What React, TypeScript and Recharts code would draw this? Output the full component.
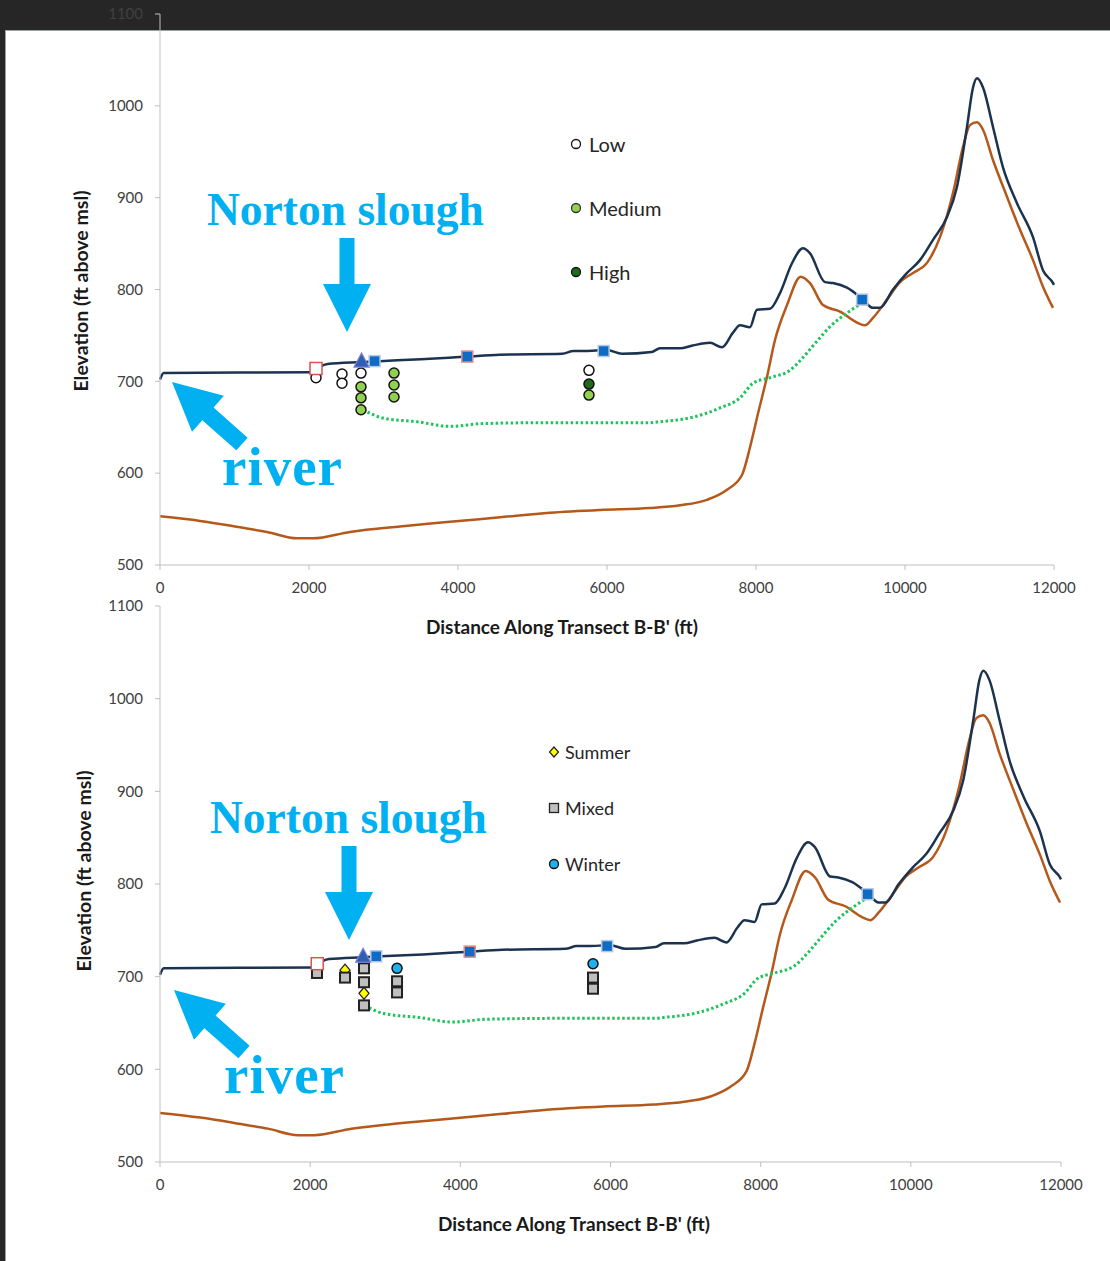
import React from "react";
import { ComposedChart, Line, Scatter, XAxis, YAxis } from "recharts";

type Pt = { x: number; y: number };

const xTicks = [0, 2000, 4000, 6000, 8000, 10000, 12000];
const yTicks = [500, 600, 700, 800, 900, 1000, 1100];

// land surface along the transect
const groundSurface: Pt[] = [
  { x: 0, y: 702 }, { x: 50, y: 709 }, { x: 2060, y: 710 }, { x: 2150, y: 716 },
  { x: 2250, y: 719 }, { x: 2700, y: 721 }, { x: 2950, y: 722 }, { x: 3500, y: 724 },
  { x: 4120, y: 727 }, { x: 4560, y: 729 }, { x: 5400, y: 730 }, { x: 5550, y: 733 },
  { x: 5700, y: 733 }, { x: 6000, y: 734 }, { x: 6200, y: 730 }, { x: 6600, y: 732 },
  { x: 6711, y: 736 }, { x: 6980, y: 736 }, { x: 7150, y: 739 }, { x: 7383, y: 742 },
  { x: 7544, y: 737 }, { x: 7691, y: 753 }, { x: 7785, y: 761 }, { x: 7919, y: 759 },
  { x: 8013, y: 778 }, { x: 8188, y: 779 }, { x: 8322, y: 796 }, { x: 8480, y: 828 },
  { x: 8630, y: 845 }, { x: 8720, y: 840 }, { x: 8926, y: 808 }, { x: 9034, y: 807 },
  { x: 9221, y: 802 }, { x: 9436, y: 789 }, { x: 9570, y: 780 }, { x: 9664, y: 780 },
  { x: 9839, y: 800 }, { x: 10027, y: 818 }, { x: 10201, y: 832 }, { x: 10376, y: 854 },
  { x: 10564, y: 879 }, { x: 10698, y: 912 }, { x: 10832, y: 977 }, { x: 10913, y: 1020 },
  { x: 10966, y: 1030 }, { x: 11047, y: 1020 }, { x: 11181, y: 977 }, { x: 11315, y: 933 },
  { x: 11503, y: 894 }, { x: 11718, y: 857 }, { x: 11852, y: 821 }, { x: 11987, y: 807 },
  { x: 12000, y: 805 },
];

// bedrock surface
const bedrock: Pt[] = [
  { x: 0, y: 553 }, { x: 537, y: 548 }, { x: 1074, y: 541 }, { x: 1436, y: 536 },
  { x: 1839, y: 529 }, { x: 2054, y: 529 }, { x: 2550, y: 536 }, { x: 3221, y: 542 },
  { x: 3893, y: 547 }, { x: 4564, y: 552 }, { x: 5235, y: 557 }, { x: 5906, y: 560 },
  { x: 6577, y: 562 }, { x: 6980, y: 565 }, { x: 7342, y: 571 }, { x: 7611, y: 582 },
  { x: 7812, y: 598 }, { x: 7919, y: 628 }, { x: 8027, y: 665 }, { x: 8148, y: 705 },
  { x: 8255, y: 745 }, { x: 8416, y: 783 }, { x: 8600, y: 814 }, { x: 8725, y: 807 },
  { x: 8900, y: 783 }, { x: 9128, y: 776 }, { x: 9356, y: 764 }, { x: 9463, y: 761 },
  { x: 9570, y: 769 }, { x: 9758, y: 789 }, { x: 9933, y: 808 }, { x: 10107, y: 818 },
  { x: 10295, y: 829 }, { x: 10470, y: 857 }, { x: 10644, y: 905 }, { x: 10778, y: 955 },
  { x: 10872, y: 979 }, { x: 10966, y: 982 }, { x: 11047, y: 974 }, { x: 11181, y: 941 },
  { x: 11369, y: 901 }, { x: 11544, y: 865 }, { x: 11718, y: 832 }, { x: 11852, y: 803 },
  { x: 11987, y: 780 },
];

// water table (dotted)
const waterTable: Pt[] = [
  { x: 2725, y: 669 }, { x: 2993, y: 660 }, { x: 3450, y: 656 }, { x: 3893, y: 651 },
  { x: 4336, y: 654 }, { x: 5235, y: 655 }, { x: 6577, y: 655 }, { x: 6711, y: 656 },
  { x: 7155, y: 661 }, { x: 7517, y: 671 }, { x: 7785, y: 682 }, { x: 7960, y: 698 },
  { x: 8188, y: 704 }, { x: 8456, y: 712 }, { x: 8631, y: 726 }, { x: 8800, y: 742 },
  { x: 9000, y: 760 }, { x: 9130, y: 769 }, { x: 9250, y: 776 }, { x: 9430, y: 786 },
];

// surface water points
const openSquareSites: Pt[] = [{ x: 2094, y: 714 }];
const triangleSites: Pt[] = [{ x: 2705, y: 721 }];
const blueSquareSites: Pt[] = [{ x: 2880, y: 722 }, { x: 5955, y: 733 }, { x: 9425, y: 789 }];
const redEdgeSquareSites: Pt[] = [{ x: 4125, y: 727 }];

// top panel: recharge level
const lowSites: Pt[] = [
  { x: 2094, y: 704 }, { x: 2443, y: 708 }, { x: 2443, y: 698 }, { x: 2698, y: 709 }, { x: 5758, y: 712 },
];
const mediumSites: Pt[] = [
  { x: 2698, y: 694 }, { x: 2698, y: 682 }, { x: 2698, y: 669 }, { x: 3141, y: 709 },
  { x: 3141, y: 696 }, { x: 3141, y: 683 }, { x: 5758, y: 685 },
];
const highSites: Pt[] = [{ x: 5758, y: 697 }];

// bottom panel: season
const summerSites: Pt[] = [{ x: 2464, y: 707 }, { x: 2717, y: 682 }];
const mixedSites: Pt[] = [
  { x: 2091, y: 704 }, { x: 2464, y: 699 }, { x: 2717, y: 709 }, { x: 2717, y: 694 },
  { x: 2717, y: 669 }, { x: 3157, y: 695 }, { x: 3157, y: 683 }, { x: 5767, y: 699 },
  { x: 5767, y: 687 },
];
const winterSites: Pt[] = [{ x: 3157, y: 709 }, { x: 5767, y: 714 }];

const FONT = "Lato, 'Open Sans', sans-serif";
const CYAN = "#00b0f0";

const circle = (fill: string) => (p: any) => (
  <circle cx={p.cx} cy={p.cy} r={5} fill={fill} stroke="#111" strokeWidth={1.5} />
);
const square = (fill: string, stroke: string, s = 11, sw = 1.5) => (p: any) => (
  <rect x={p.cx - s / 2} y={p.cy - s / 2} width={s} height={s} fill={fill} stroke={stroke} strokeWidth={sw} />
);
const diamond = (p: any) => (
  <polygon
    points={`${p.cx},${p.cy - 6} ${p.cx + 5},${p.cy} ${p.cx},${p.cy + 6} ${p.cx - 5},${p.cy}`}
    fill="#ffff00" stroke="#222" strokeWidth={1.3}
  />
);
const triangle = (p: any) => (
  <polygon
    points={`${p.cx},${p.cy - 9} ${p.cx + 7.5},${p.cy + 5} ${p.cx - 7.5},${p.cy + 5}`}
    fill="#2d5fb4" stroke="#7f7fd0" strokeWidth={1.2}
  />
);

function surfaceMarks() {
  return [
    <Scatter key="os" data={openSquareSites} dataKey="y" shape={square("#fff", "#d9534f", 12, 1.5)} isAnimationActive={false} />,
    <Scatter key="bs" data={blueSquareSites} dataKey="y" shape={square("#0f6cc4", "#b8c8e8", 11, 1.5)} isAnimationActive={false} />,
    <Scatter key="rs" data={redEdgeSquareSites} dataKey="y" shape={square("#0f6cc4", "#e58a8a", 11, 1.5)} isAnimationActive={false} />,
    <Scatter key="tr" data={triangleSites} dataKey="y" shape={triangle} isAnimationActive={false} />,
  ];
}

function ProfileChart({ height, margin, children }: { height: number; margin: any; children: React.ReactNode }) {
  return (
    <ComposedChart width={1110} height={height} margin={margin} style={{ overflow: "visible" }}>
      <XAxis
        dataKey="x" type="number" domain={[0, 12000]} ticks={xTicks} interval={0}
        tick={{ fill: "#404040", fontSize: 15, fontFamily: FONT }}
        tickSize={5} tickMargin={12} height={30}
        axisLine={{ stroke: "#bfbfbf" }} tickLine={{ stroke: "#bfbfbf" }}
      />
      <YAxis
        type="number" domain={[500, 1100]} ticks={yTicks} interval={0} width={160}
        tick={{ fill: "#404040", fontSize: 15, fontFamily: FONT }}
        tickSize={5} tickMargin={12}
        axisLine={{ stroke: "#bfbfbf" }} tickLine={{ stroke: "#bfbfbf" }}
      />
      <Line data={bedrock} dataKey="y" type="monotone" stroke="#b5581b" strokeWidth={2.5} dot={false} isAnimationActive={false} />
      <Line data={waterTable} dataKey="y" type="monotone" stroke="#1cc45a" strokeWidth={3} strokeDasharray="2.5 2.5" dot={false} isAnimationActive={false} />
      <Line data={groundSurface} dataKey="y" type="monotone" stroke="#1c3350" strokeWidth={2.5} dot={false} isAnimationActive={false} />
      {children}
    </ComposedChart>
  );
}

function arrowPoints(tx: number, ty: number, hx: number, hy: number, sw: number, hw: number, hl: number) {
  const dx = hx - tx, dy = hy - ty;
  const len = Math.hypot(dx, dy);
  const ux = dx / len, uy = dy / len;
  const nx = -uy, ny = ux;
  const bx = hx - ux * hl, by = hy - uy * hl;
  const pts = [
    [tx + nx * sw / 2, ty + ny * sw / 2],
    [bx + nx * sw / 2, by + ny * sw / 2],
    [bx + nx * hw / 2, by + ny * hw / 2],
    [hx, hy],
    [bx - nx * hw / 2, by - ny * hw / 2],
    [bx - nx * sw / 2, by - ny * sw / 2],
    [tx - nx * sw / 2, ty - ny * sw / 2],
  ];
  return pts.map((p) => p.join(",")).join(" ");
}

function Annotations() {
  const serif = "'Liberation Serif', 'DejaVu Serif', serif";
  const title = { fontFamily: FONT, fontWeight: 700, fill: "#1a1a1a" } as const;
  const legendText = { fontFamily: FONT, fill: "#262626", dominantBaseline: "central" } as const;
  return (
    <svg width={1110} height={1261} style={{ position: "absolute", left: 0, top: 0, pointerEvents: "none" }}>
      {/* top panel */}
      <text x={207} y={225} fontFamily={serif} fontWeight={700} fontSize={45.5} fill={CYAN}>Norton slough</text>
      <polygon points={arrowPoints(347, 238, 347, 332, 15, 48, 48)} fill={CYAN} />
      <polygon points={arrowPoints(242, 444, 172, 382, 17, 48, 48)} fill={CYAN} />
      <text x={222} y={485} fontFamily={serif} fontWeight={700} fontSize={55} letterSpacing={1} fill={CYAN}>river</text>
      <text x={562} y={634} textAnchor="middle" fontSize={19} {...title}>Distance Along Transect B-B' (ft)</text>
      <text transform="translate(88,291) rotate(-90)" textAnchor="middle" fontSize={19.5} {...title}>Elevation (ft above msl)</text>
      <circle cx={576} cy={144} r={4.5} fill="#fff" stroke="#111" strokeWidth={1.3} />
      <text x={589} y={144} fontSize={20} {...legendText}>Low</text>
      <circle cx={576} cy={208} r={4.5} fill="#92d050" stroke="#333" strokeWidth={1.3} />
      <text x={589} y={208} fontSize={20} {...legendText}>Medium</text>
      <circle cx={576} cy={272} r={4.5} fill="#1e6b1e" stroke="#111" strokeWidth={1.3} />
      <text x={589} y={272} fontSize={20} {...legendText}>High</text>

      {/* bottom panel */}
      <text x={210} y={833} fontFamily={serif} fontWeight={700} fontSize={45.5} fill={CYAN}>Norton slough</text>
      <polygon points={arrowPoints(349, 846, 349, 940, 15, 48, 48)} fill={CYAN} />
      <polygon points={arrowPoints(244, 1052, 174, 990, 17, 48, 48)} fill={CYAN} />
      <text x={224} y={1093} fontFamily={serif} fontWeight={700} fontSize={55} letterSpacing={1} fill={CYAN}>river</text>
      <text x={574} y={1231} textAnchor="middle" fontSize={19} {...title}>Distance Along Transect B-B' (ft)</text>
      <text transform="translate(91,871) rotate(-90)" textAnchor="middle" fontSize={19.5} {...title}>Elevation (ft above msl)</text>
      <polygon points="554,747 558.5,752 554,757 549.5,752" fill="#ffff00" stroke="#222" strokeWidth={1.2} />
      <text x={565} y={752} fontSize={18} {...legendText}>Summer</text>
      <rect x={549.5} y={803.5} width={9} height={9} fill="#bfbfbf" stroke="#222" strokeWidth={1.3} />
      <text x={565} y={808} fontSize={18} {...legendText}>Mixed</text>
      <circle cx={554} cy={864} r={4.5} fill="#1fb0f0" stroke="#111" strokeWidth={1.3} />
      <text x={565} y={864} fontSize={18} {...legendText}>Winter</text>
    </svg>
  );
}

export default function App() {
  return (
    <div style={{ position: "absolute", left: 0, top: 0, width: 1110, height: 1261, background: "#262626", overflow: "hidden" }}>
      <div style={{ position: "absolute", left: 5, top: 30, right: 0, bottom: 0, background: "#fff", borderLeft: "1.5px solid #9aa2a2", borderTop: "1.5px solid #9aa2a2" }} />
      <div style={{ position: "absolute", left: 0, top: 0 }}>
        <ProfileChart height={650} margin={{ top: 14, right: 56, left: 0, bottom: 55 }}>
          <Scatter data={lowSites} dataKey="y" shape={circle("#fff")} isAnimationActive={false} />
          <Scatter data={mediumSites} dataKey="y" shape={circle("#92d050")} isAnimationActive={false} />
          <Scatter data={highSites} dataKey="y" shape={circle("#1e6b1e")} isAnimationActive={false} />
          {surfaceMarks()}
        </ProfileChart>
      </div>
      <div style={{ position: "absolute", left: 0, top: 580 }}>
        <ProfileChart height={681} margin={{ top: 26, right: 49, left: 0, bottom: 69 }}>
          <Scatter data={summerSites} dataKey="y" shape={diamond} isAnimationActive={false} />
          <Scatter data={mixedSites} dataKey="y" shape={square("#bfbfbf", "#222", 10, 2)} isAnimationActive={false} />
          <Scatter data={winterSites} dataKey="y" shape={circle("#1fb0f0")} isAnimationActive={false} />
          {surfaceMarks()}
        </ProfileChart>
      </div>
      <Annotations />
    </div>
  );
}
